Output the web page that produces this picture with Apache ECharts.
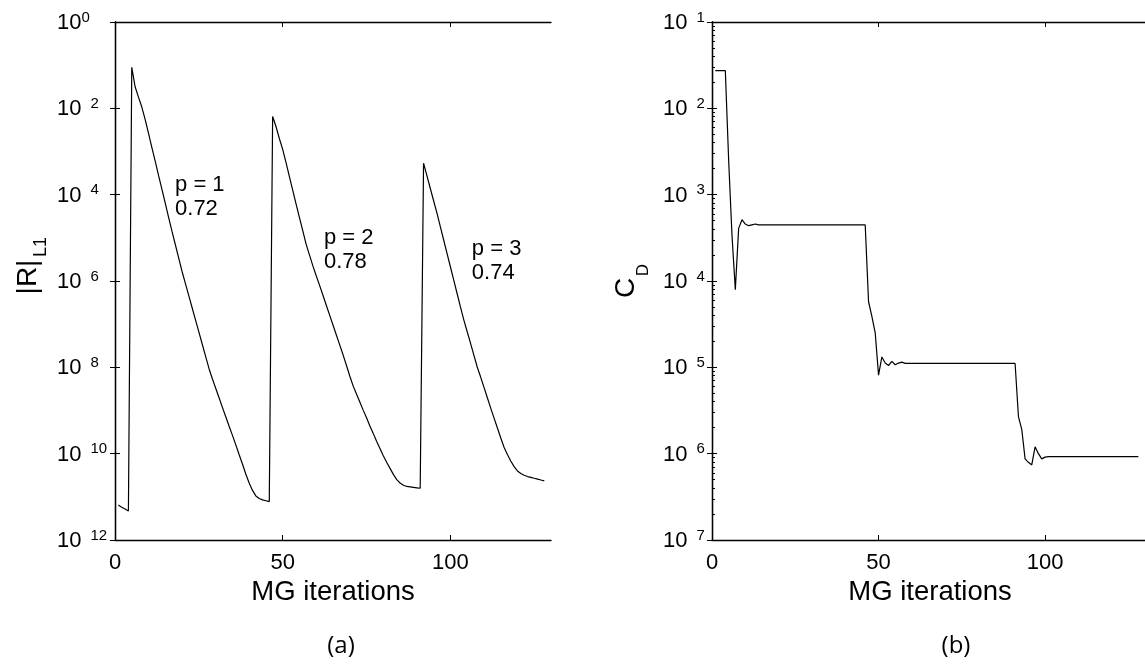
<!DOCTYPE html>
<html><head><meta charset="utf-8">
<script src="https://cdn.jsdelivr.net/npm/echarts@6/dist/echarts.min.js"></script>
<style>html,body{margin:0;padding:0;background:#fff}#c{width:1145px;height:668px}</style>
</head><body><div id="c"></div>
<script>
// ---- data ----
// |R|_L1 residual per MG iteration (iterations 1..128)
const residual = [
  6.46e-12,5.75e-12,5.25e-12,4.68e-12,
  8.91e-2,3.16e-2,1.82e-2,1.07e-2,5.50e-3,2.63e-3,1.23e-3,5.89e-4,2.75e-4,1.32e-4,
  6.31e-5,2.95e-5,1.41e-5,6.92e-6,3.39e-6,1.66e-6,8.71e-7,4.57e-7,2.40e-7,1.26e-7,
  6.61e-8,3.47e-8,1.82e-8,9.55e-9,5.50e-9,3.31e-9,2.00e-9,1.20e-9,7.24e-10,4.37e-10,
  2.69e-10,1.62e-10,9.55e-11,5.75e-11,3.39e-11,2.09e-11,1.41e-11,1.05e-11,9.12e-12,
  8.51e-12,8.13e-12,7.76e-12,
  6.46e-3,3.80e-3,2.00e-3,1.12e-3,5.50e-4,2.63e-4,1.26e-4,6.03e-5,2.95e-5,1.45e-5,
  7.08e-6,3.98e-6,2.24e-6,1.32e-6,7.94e-7,4.68e-7,2.75e-7,1.62e-7,9.55e-8,5.62e-8,
  3.31e-8,1.95e-8,1.12e-8,6.31e-9,3.72e-9,2.40e-9,1.58e-9,1.02e-9,6.76e-10,4.37e-10,
  2.95e-10,1.95e-10,1.32e-10,8.91e-11,6.31e-11,4.57e-11,3.31e-11,2.51e-11,2.09e-11,
  1.86e-11,1.74e-11,1.70e-11,1.66e-11,1.62e-11,1.58e-11,
  5.37e-4,2.75e-4,1.41e-4,7.24e-5,3.72e-5,1.82e-5,8.91e-6,4.37e-6,2.14e-6,1.05e-6,
  5.13e-7,2.51e-7,1.26e-7,6.76e-8,3.63e-8,1.91e-8,1.02e-8,6.03e-9,3.47e-9,2.00e-9,
  1.15e-9,6.76e-10,3.98e-10,2.34e-10,1.41e-10,9.55e-11,6.76e-11,5.01e-11,3.98e-11,
  3.47e-11,3.16e-11,2.95e-11,2.82e-11,2.69e-11,2.57e-11,2.45e-11,2.34e-11
];
// C_D history (iteration, value)
const cdIter = [1,4,5,6,7,8,9,10,11,12,13,14,46,47,48,49,50,51,52,53,54,55,56,57,58,91,
  92,93,94,95,96,97,98,99,100,101,128];
const cdValue = [2.73e-2,2.73e-2,2.51e-3,3.39e-4,7.94e-5,4.07e-4,5.13e-4,4.57e-4,4.37e-4,4.47e-4,
  4.57e-4,4.46e-4,4.46e-4,5.75e-5,3.89e-5,2.51e-5,8.13e-6,1.32e-5,1.12e-5,1.05e-5,1.17e-5,
  1.07e-5,1.12e-5,1.15e-5,1.11e-5,1.11e-5,2.69e-6,1.91e-6,8.71e-7,7.94e-7,7.41e-7,1.20e-6,
  1.00e-6,8.71e-7,9.12e-7,9.25e-7,9.25e-7];
// ticks
const xTicks = [0, 50, 100];
const residualTicks = [1,1e-2,1e-4,1e-6,1e-8,1e-10,1e-12];
const cdTicks = [1e-1,1e-2,1e-3,1e-4,1e-5,1e-6,1e-7];
const cdMinorMantissa = [2,3,4,5,6,7,8,9];
// annotations: [iteration, value, text]
const annotations = [
  [17.9, 1.67e-4, 'p = 1\n0.72'],
  [62.3, 9.9e-6, 'p = 2\n0.78'],
  [106.4, 5.5e-6, 'p = 3\n0.74']
];
const panelTags = ['(a)', '(b)'];

// ---- chart ----
const FONT = '"Liberation Sans", Arial, Helvetica, sans-serif';
const cdMinorTicks = [];
for (let d = 2; d <= 7; d++) {
  cdMinorMantissa.forEach(m => cdMinorTicks.push(parseFloat((m * Math.pow(10, -d)).toPrecision(3))));
}
const rich = {
  b: {fontSize: 22, fontFamily: FONT, color: '#000', lineHeight: 24, verticalAlign: 'bottom'},
  s: {fontSize: 15, fontFamily: FONT, color: '#000', lineHeight: 15, verticalAlign: 'top', padding: [0,0,16,0]},
  sp: {fontSize: 15, fontFamily: FONT, color: '#000', lineHeight: 15, verticalAlign: 'top', padding: [0,0,16,9]}
};
function powLabel(v) {
  const e = Math.round(-Math.log10(v));
  return e === 0 ? '{b|10}{s|0}' : '{b|10}{sp|' + e + '}';
}
const axisLine = {show: true, lineStyle: {color: '#000', width: 1.3}};
function xAxes(grid) {
  const base = {gridIndex: grid, type: 'value', min: 0, max: 130, splitLine: {show: false},
    axisLine: axisLine,
    axisTick: {show: true, inside: true, length: 5, customValues: xTicks, lineStyle: {color: '#000', width: 1}}};
  return [
    Object.assign({}, base, {position: 'bottom',
      axisLabel: {customValues: xTicks, color: '#000', fontSize: 22, fontFamily: FONT, margin: 12}}),
    Object.assign({}, base, {position: 'top', axisLabel: {show: false}})
  ];
}
const chart = echarts.init(document.getElementById('c'), null, {renderer: 'canvas'});
const option = {
  animation: false,
  backgroundColor: '#fff',
  grid: [
    {left: 115, top: 22, width: 436, height: 518},
    {left: 712, top: 22, width: 435.5, height: 518}
  ],
  xAxis: xAxes(0).concat(xAxes(1)),
  yAxis: [
    {gridIndex: 0, type: 'log', min: 1e-12, max: 1, position: 'left', splitLine: {show: false},
      axisLine: axisLine,
      axisTick: {inside: true, length: 5, customValues: residualTicks, lineStyle: {color: '#000'}},
      axisLabel: {customValues: residualTicks, formatter: powLabel, rich: rich, align: 'left', margin: 58}},
    {gridIndex: 0, type: 'log', min: 1e-12, max: 1, position: 'right', splitLine: {show: false},
      axisLine: axisLine,
      axisTick: {inside: true, length: 5, customValues: residualTicks, lineStyle: {color: '#000'}},
      axisLabel: {show: false}},
    {gridIndex: 1, type: 'log', min: 1e-7, max: 1e-1, position: 'left', splitLine: {show: false},
      axisLine: axisLine,
      axisTick: {inside: true, length: 5, customValues: cdTicks, lineStyle: {color: '#000'}},
      axisLabel: {customValues: cdTicks, formatter: powLabel, rich: rich, align: 'left', margin: 49}},
    {gridIndex: 1, type: 'log', min: 1e-7, max: 1e-1, position: 'right', splitLine: {show: false},
      axisLine: axisLine,
      axisTick: {inside: true, length: 5, customValues: cdTicks, lineStyle: {color: '#000'}},
      axisLabel: {show: false}},
    {gridIndex: 1, type: 'log', min: 1e-7, max: 1e-1, position: 'left', splitLine: {show: false},
      axisLine: {show: false},
      axisTick: {inside: true, length: 3, customValues: cdMinorTicks, lineStyle: {color: '#000'}},
      axisLabel: {show: false}}
  ],
  series: [
    {type: 'line', xAxisIndex: 0, yAxisIndex: 0, showSymbol: false, symbol: 'none',
      lineStyle: {color: '#000', width: 1.2}, data: residual.map((v, i) => [i + 1, v])},
    {type: 'line', xAxisIndex: 2, yAxisIndex: 2, showSymbol: false, symbol: 'none',
      lineStyle: {color: '#000', width: 1.2}, data: cdIter.map((x, i) => [x, cdValue[i]])}
  ]
};
chart.setOption(option);

const g = [];
annotations.forEach(a => {
  const p = chart.convertToPixel({xAxisIndex: 0, yAxisIndex: 0}, [a[0], a[1]]);
  g.push({type: 'text', x: p[0], y: p[1] - 12, silent: true,
    style: {text: a[2], fontSize: 22, fontFamily: FONT, fill: '#000', lineHeight: 24,
      align: 'left', verticalAlign: 'top'}});
});
// axis titles
g.push({type: 'text', x: 333, y: 592, style: {text: 'MG iterations', fontSize: 27.5, fontFamily: FONT, fill: '#000', align: 'center', verticalAlign: 'middle'}});
g.push({type: 'text', x: 930, y: 592, style: {text: 'MG iterations', fontSize: 27.5, fontFamily: FONT, fill: '#000', align: 'center', verticalAlign: 'middle'}});
g.push({type: 'text', x: 28, y: 277, rotation: Math.PI / 2, style: {text: '|R|', fontSize: 28, fontFamily: FONT, fill: '#000', align: 'center', verticalAlign: 'middle'}});
g.push({type: 'text', x: 41, y: 247, rotation: Math.PI / 2, style: {text: 'L1', fontSize: 18, fontFamily: FONT, fill: '#000', align: 'center', verticalAlign: 'middle'}});
g.push({type: 'text', x: 626, y: 288, rotation: Math.PI / 2, style: {text: 'C', fontSize: 28, fontFamily: FONT, fill: '#000', align: 'center', verticalAlign: 'middle'}});
g.push({type: 'text', x: 643, y: 270, rotation: Math.PI / 2, style: {text: 'D', fontSize: 17, fontFamily: FONT, fill: '#000', align: 'center', verticalAlign: 'middle'}});
g.push({type: 'text', x: 341, y: 646, style: {text: panelTags[0], fontSize: 24, fontFamily: '"Open Sans", "Noto Sans", sans-serif', fill: '#000', align: 'center', verticalAlign: 'middle'}});
g.push({type: 'text', x: 956, y: 646, style: {text: panelTags[1], fontSize: 24, fontFamily: '"Open Sans", "Noto Sans", sans-serif', fill: '#000', align: 'center', verticalAlign: 'middle'}});
chart.setOption({graphic: g});
</script>
</body></html>
